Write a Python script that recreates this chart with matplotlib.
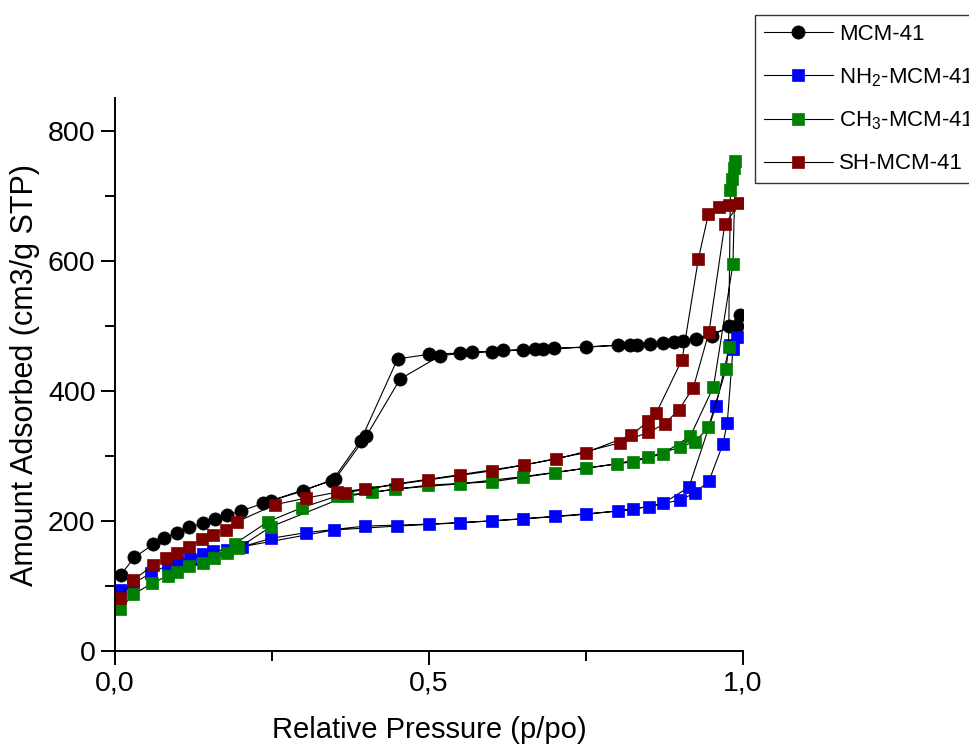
import matplotlib
matplotlib.use("Agg")
import matplotlib.pyplot as plt
from matplotlib.ticker import MultipleLocator, FuncFormatter

plt.rcParams['font.family'] = ['Liberation Sans', 'DejaVu Sans']
plt.rcParams['mathtext.default'] = 'regular'

# N2 isotherms: adsorption branch followed by desorption branch
mcm_x = [0.009, 0.031, 0.061, 0.078, 0.099, 0.118, 0.140, 0.159, 0.179, 0.200,
         0.236, 0.299, 0.351, 0.400, 0.454, 0.518, 0.568, 0.618, 0.669, 0.699,
         0.750, 0.801, 0.832, 0.873, 0.904, 0.950, 0.977, 0.995,
         0.990, 0.925, 0.890, 0.852, 0.820, 0.682, 0.650, 0.600, 0.549, 0.500,
         0.450, 0.391, 0.346, 0.248]
mcm_y = [117, 144, 164, 173, 182, 190, 196, 203, 209, 215,
         227, 246, 265, 330, 418, 454, 459, 462, 464, 465,
         467, 470, 471, 474, 477, 484, 499, 517,
         500, 480, 475, 472, 471, 464, 463, 460, 458, 456,
         449, 323, 262, 231]

nh2_x = [0.008, 0.029, 0.058, 0.085, 0.119, 0.156, 0.202, 0.248, 0.304, 0.398,
         0.500, 0.600, 0.701, 0.801, 0.851, 0.899, 0.924, 0.946, 0.968, 0.975,
         0.984, 0.990,
         0.979, 0.957, 0.914, 0.873, 0.825, 0.750, 0.650, 0.549, 0.449, 0.348,
         0.178, 0.140, 0.099]
nh2_y = [94, 104, 120, 132, 141, 153, 160, 173, 182, 192,
         195, 200, 207, 215, 222, 232, 243, 262, 318, 351,
         464, 483,
         471, 377, 252, 227, 218, 210, 203, 197, 192, 186,
         156, 149, 137]

ch3_x = [0.008, 0.029, 0.059, 0.085, 0.118, 0.157, 0.191, 0.244, 0.297, 0.353,
         0.410, 0.499, 0.600, 0.700, 0.800, 0.849, 0.899, 0.924, 0.945, 0.973,
         0.977, 0.980, 0.983, 0.985, 0.988,
         0.984, 0.953, 0.916, 0.872, 0.825, 0.750, 0.650, 0.549, 0.446, 0.369,
         0.248, 0.196, 0.178, 0.140, 0.099]
ch3_y = [64, 87, 104, 116, 130, 143, 165, 199, 220, 238,
         244, 255, 260, 274, 288, 298, 313, 322, 344, 433,
         468, 709, 726, 743, 753,
         595, 406, 330, 303, 291, 281, 268, 257, 249, 238,
         191, 158, 150, 136, 122]

sh_x = [0.008, 0.029, 0.061, 0.082, 0.099, 0.118, 0.138, 0.156, 0.177, 0.195,
        0.255, 0.304, 0.353, 0.398, 0.499, 0.601, 0.702, 0.804, 0.849, 0.875,
        0.898, 0.921, 0.946, 0.971, 0.995,
        0.978, 0.961, 0.945, 0.929, 0.903, 0.862, 0.849, 0.822, 0.750, 0.652,
        0.549, 0.449, 0.366]
sh_y = [82, 109, 132, 143, 150, 160, 172, 179, 186, 199,
        225, 235, 244, 249, 263, 277, 295, 320, 336, 349,
        371, 405, 491, 656, 689,
        685, 682, 672, 603, 448, 366, 353, 332, 305, 286,
        271, 257, 243]

series = [
    ("MCM-41", mcm_x, mcm_y, "o", "#000000", 9.5),
    ("NH$_2$-MCM-41", nh2_x, nh2_y, "s", "#0000ff", 8.5),
    ("CH$_3$-MCM-41", ch3_x, ch3_y, "s", "#008000", 8.5),
    ("SH-MCM-41", sh_x, sh_y, "s", "#800000", 8.5),
]

fig = plt.figure(figsize=(9.7, 7.44), dpi=100)
ax = fig.add_axes([115 / 970, 1 - 651 / 744, 628 / 970, 553 / 744])

handles = []
for label, xs, ys, marker, color, ms in series:
    h, = ax.plot(xs, ys, color="black", lw=0.8, marker=marker, ms=ms,
                 markerfacecolor=color, markeredgecolor=color,
                 markeredgewidth=0.5, label=label)
    handles.append(h)

ax.set_xlim(0, 1.0)
ax.set_ylim(0, 850)
ax.spines['top'].set_visible(False)
ax.spines['right'].set_visible(False)
for s in ('left', 'bottom'):
    ax.spines[s].set_linewidth(1.4)

ax.xaxis.set_major_locator(MultipleLocator(0.5))
ax.xaxis.set_minor_locator(MultipleLocator(0.25))
ax.yaxis.set_major_locator(MultipleLocator(200))
ax.yaxis.set_minor_locator(MultipleLocator(100))
ax.xaxis.set_major_formatter(FuncFormatter(lambda v, p: f"{v:.1f}".replace(".", ",")))
ax.tick_params(which='major', direction='out', length=10, width=1.4, labelsize=20.5, pad=4)
ax.tick_params(which='minor', direction='out', length=7, width=1.4)

ax.set_xlabel("Relative Pressure (p/po)", fontsize=21, labelpad=14)
ax.set_ylabel("Amount Adsorbed (cm3/g STP)", fontsize=22, labelpad=6)

# legend sits at the figure's right edge and runs past it
fig.legend(handles=handles, loc='upper left', bbox_to_anchor=(755 / 970, 1 - 15 / 744),
           frameon=True, fancybox=False, edgecolor='black', fontsize=16,
           handlelength=3.1, handletextpad=0.3, labelspacing=0.95,
           borderpad=0.4, borderaxespad=0, numpoints=1)

fig.savefig("out.png", dpi=100)
